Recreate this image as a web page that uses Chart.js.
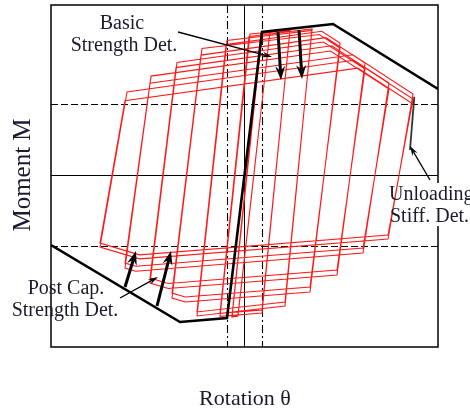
<!DOCTYPE html>
<html>
<head>
<meta charset="utf-8">
<script src="https://cdn.jsdelivr.net/npm/chart.js@4.4.0/dist/chart.umd.min.js"></script>
<style>
  html, body { margin: 0; padding: 0; background: #fff; }
  canvas { display: block; }
</style>
</head>
<body>
<canvas id="chart" width="470" height="413"></canvas>
<script>
// Cyclic moment-rotation path with strength and stiffness deterioration
const hystTheta = [
  0, 0.175, 0.255, -0.065, -0.125, 0.175, 0.255, -0.065, -0.125, 0.165,
  0.455, 0.175, -0.245, 0.055, 0.455, 0.175, -0.245, 0.045,
  0.675, 0.405, -0.475, -0.175, 0.675, 0.405, -0.475, -0.185,
  0.773, 0.955, 0.655, -0.593, -0.725, -0.425, 0.748, 0.955, 0.655, -0.593, -0.725, -0.435,
  0.814, 1.205, 0.925, -0.762, -0.945, -0.675, 0.789, 1.205, 0.925, -0.762, -0.945, -0.685,
  0.872, 1.445, 1.185, -1.088, -1.195, -0.935, 0.860, 1.445, 1.185, -1.088, -1.195, -0.945,
  1.083, 1.685, 1.435, -1.049, -1.445, -1.175, 1.089, 1.685, 1.435, -1.049, -1.445, -1.195,
  1.133, 1.685
];
const hystMoment = [
  0, 1.43, 1.439, -1.41, -1.42, 1.424, 1.436, -1.40, -1.41, 1.413,
  1.454, -1.38, -1.414, 1.41, 1.444, -1.35, -1.384, 1.385,
  1.46, -1.31, -1.41, 1.345, 1.445, -1.27, -1.37, 1.304,
  1.438, 1.32, -1.17, -1.27, -1.23, 1.265, 1.405, 1.27, -1.12, -1.22, -1.18, 1.199,
  1.374, 1.12, -1.00, -1.135, -1.08, 1.125, 1.33, 1.06, -0.95, -1.085, -1.03, 1.074,
  1.292, 0.92, -0.78, -0.962, -0.93, 0.989, 1.24, 0.86, -0.73, -0.912, -0.88, 0.918,
  1.202, 0.81, -0.64, -0.839, -0.72, 0.83, 1.147, 0.76, -0.60, -0.799, -0.68, 0.743,
  1.069, 0.71
];

// Monotonic backbone (elastic, hardening, post-capping branches)
const backboneTheta  = [-1.935, -0.645, -0.175, 0.175, 0.885, 1.935];
const backboneMoment = [-0.70, -1.47, -1.43, 1.43, 1.51, 0.86];

// Deteriorated unloading branch of the last cycle
const unloadTheta  = [1.698, 1.655];
const unloadMoment = [0.783, 0.25];

// Reference levels
const yieldTheta = [-0.175, 0.175];
const refMoment  = [0.71, -0.713];

// Annotation arrows: [from theta, from M, to theta, to M]
const thickArrows = [
  [0.335, 1.43, 0.365, 0.95],
  [0.545, 1.45, 0.575, 0.96],
  [-1.195, -1.12, -1.085, -0.76],
  [-0.875, -1.31, -0.735, -0.76]
];
const thinArrows = [
  [-0.665, 1.43, 0.275, 1.18],
  [-1.245, -1.23, -0.865, -1.02],
  [1.855, -0.05, 1.655, 0.29]
];

const toPoints = (xs, ys) => xs.map((x, i) => ({ x, y: ys[i] }));
const crisp = v => Math.round(v - 0.5) + 0.5;
const TEXT = '#1b1b2f';
const SERIF = '"Liberation Serif", "Times New Roman", serif';

function drawArrow(ctx, x1, y1, x2, y2, lw, headLen, headW) {
  const ang = Math.atan2(y2 - y1, x2 - x1);
  const c = Math.cos(ang), s = Math.sin(ang);
  const bx = x2 - c * headLen * 0.65, by = y2 - s * headLen * 0.65;
  const hx = x2 - c * headLen, hy = y2 - s * headLen;
  ctx.lineWidth = lw;
  ctx.beginPath();
  ctx.moveTo(x1, y1);
  ctx.lineTo(bx, by);
  ctx.stroke();
  ctx.beginPath();
  ctx.moveTo(x2, y2);
  ctx.lineTo(hx - s * headW / 2, hy + c * headW / 2);
  ctx.lineTo(bx, by);
  ctx.lineTo(hx + s * headW / 2, hy - c * headW / 2);
  ctx.closePath();
  ctx.fill();
}

const guides = {
  id: 'guides',
  beforeDatasetsDraw(chart) {
    const { ctx, chartArea: a, scales: { x, y } } = chart;
    ctx.save();
    ctx.beginPath();
    ctx.rect(a.left, a.top, a.right - a.left, a.bottom - a.top);
    ctx.clip();
    ctx.strokeStyle = '#000';
    ctx.lineWidth = 1;
    // axes through the origin
    const x0 = crisp(x.getPixelForValue(0));
    const y0 = crisp(y.getPixelForValue(0));
    ctx.beginPath();
    ctx.moveTo(x0, a.top); ctx.lineTo(x0, a.bottom);
    ctx.moveTo(a.left, y0); ctx.lineTo(a.right, y0);
    ctx.stroke();
    // dashed moment levels
    ctx.setLineDash([7, 3]);
    ctx.lineWidth = 1.2;
    refMoment.forEach(m => {
      const py = crisp(y.getPixelForValue(m));
      ctx.beginPath(); ctx.moveTo(a.left, py); ctx.lineTo(a.right, py); ctx.stroke();
    });
    // dash-dot yield rotations
    ctx.setLineDash([8, 3, 2, 3]);
    ctx.lineWidth = 1.1;
    yieldTheta.forEach(t => {
      const px = crisp(x.getPixelForValue(t));
      ctx.beginPath(); ctx.moveTo(px, a.top); ctx.lineTo(px, a.bottom); ctx.stroke();
    });
    ctx.restore();
  },
  afterDatasetsDraw(chart) {
    const { ctx, chartArea: a, scales: { x, y } } = chart;
    ctx.save();
    ctx.fillStyle = '#000';
    ctx.strokeStyle = '#000';
    thickArrows.forEach(([t1, m1, t2, m2]) =>
      drawArrow(ctx, x.getPixelForValue(t1), y.getPixelForValue(m1),
                x.getPixelForValue(t2), y.getPixelForValue(m2), 3, 14, 10));
    thinArrows.forEach(([t1, m1, t2, m2]) =>
      drawArrow(ctx, x.getPixelForValue(t1), y.getPixelForValue(m1),
                x.getPixelForValue(t2), y.getPixelForValue(m2), 1.3, 10, 6));

    // frame
    ctx.lineWidth = 1.5;
    ctx.strokeRect(a.left, a.top, a.right - a.left, a.bottom - a.top);
    // clear the frame behind the right-hand label
    ctx.fillStyle = '#fff';
    ctx.fillRect(a.right - 2, 183, 4, 43);

    ctx.fillStyle = TEXT;
    ctx.font = '20px ' + SERIF;
    ctx.textBaseline = 'alphabetic';
    ctx.textAlign = 'center';
    ctx.fillText('Basic', 122, 29);
    ctx.fillText('Strength Det.', 124, 51);
    ctx.fillText('Post Cap.', 66, 294);
    ctx.fillText('Strength Det.', 65, 316);
    ctx.textAlign = 'left';
    ctx.fillText('Unloading', 389, 200);
    ctx.fillText('Stiff. Det.', 390, 222);

    // axis titles
    ctx.font = '22px ' + SERIF;
    ctx.textAlign = 'center';
    ctx.fillText('Rotation \u03b8', 245, 405);
    ctx.font = '25px ' + SERIF;
    ctx.translate(30, 175);
    ctx.rotate(-Math.PI / 2);
    ctx.fillText('Moment M', 0, 0);
    ctx.restore();
  }
};

new Chart(document.getElementById('chart'), {
  type: 'scatter',
  data: {
    datasets: [
      {
        data: toPoints(hystTheta, hystMoment),
        showLine: true,
        borderColor: '#ff1a1a',
        borderWidth: 1.1,
        pointRadius: 0,
        tension: 0,
        order: 3
      },
      {
        data: toPoints(backboneTheta, backboneMoment),
        showLine: true,
        borderColor: '#000',
        borderWidth: 2.6,
        pointRadius: 0,
        tension: 0,
        order: 2
      },
      {
        data: toPoints(unloadTheta, unloadMoment),
        showLine: true,
        borderColor: '#333',
        borderWidth: 1.8,
        pointRadius: 0,
        tension: 0,
        order: 1
      }
    ]
  },
  options: {
    responsive: false,
    animation: false,
    devicePixelRatio: 1,
    layout: { padding: { left: 51, right: 32, top: 5, bottom: 66 } },
    plugins: { legend: { display: false }, tooltip: { enabled: false } },
    scales: {
      x: { type: 'linear', min: -1.935, max: 1.935, display: false },
      y: { type: 'linear', min: -1.72, max: 1.70, display: false }
    }
  },
  plugins: [guides]
});
</script>
</body>
</html>
